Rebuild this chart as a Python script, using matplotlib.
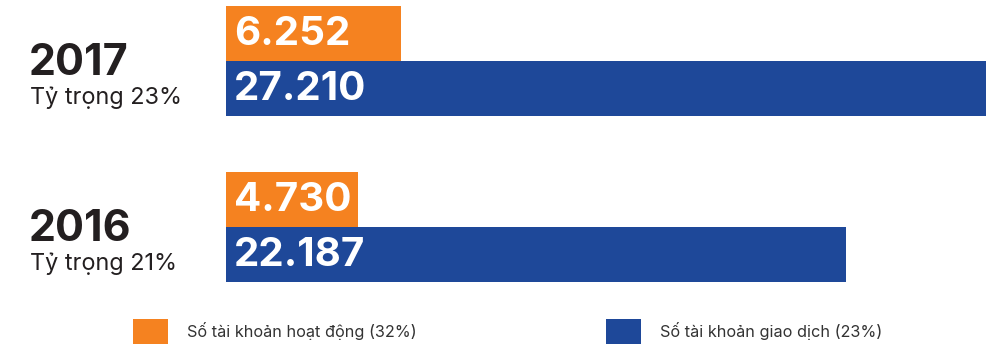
import matplotlib
matplotlib.use('Agg')
from matplotlib import pyplot as plt
from matplotlib.patches import Rectangle

# data
years = ['2017', '2016']
shares = ['Tỷ trọng 23%', 'Tỷ trọng 21%']
active = [6252, 4730]        # Số tài khoản hoạt động
trading = [27210, 22187]     # Số tài khoản giao dịch
active_lbl = ['6.252', '4.730']
trading_lbl = ['27.210', '22.187']
legend_lbl = ['Số tài khoản hoạt động (32%)', 'Số tài khoản giao dịch (23%)']

ORANGE = '#F58220'
BLUE = '#1E4899'
DARK = '#231F20'
W, H = 986, 344

plt.rcParams['font.family'] = ['Inter', 'DejaVu Sans']
fig = plt.figure(figsize=(W/100, H/100), dpi=100)

def fx(x):
    return x/W

def fy(y):
    return 1 - y/H

# axes spans the bar area (pixel coords 226..986 wide, 0..300 tall)
ax = fig.add_axes([fx(226), fy(300), fx(760), 300/H])
ax.set_xlim(0, max(trading))
ax.set_ylim(266.5, -33.5)
ax.axis('off')

bh = 55
gap = 166
for i in range(len(years)):
    y0 = i*gap
    ax.barh(y0, active[i], height=bh, color=ORANGE, linewidth=0)
    ax.barh(y0+bh, trading[i], height=bh, color=BLUE, linewidth=0)
    ax.annotate(active_lbl[i], xy=(0, y0), xytext=(8, -1), textcoords='offset pixels',
                color='white', fontsize=29, fontweight='bold', va='center', ha='left')
    ax.annotate(trading_lbl[i], xy=(0, y0+bh), xytext=(8, -1), textcoords='offset pixels',
                color='white', fontsize=29, fontweight='bold', va='center', ha='left')
    # year + share labels on the left
    fig.text(fx(29), fy(75 + i*gap), years[i], fontsize=31, fontweight='bold',
             color=DARK, va='baseline', ha='left')
    fig.text(fx(30), fy(104 + i*gap), shares[i], fontsize=16.9,
             color=DARK, va='baseline', ha='left')

# legend
for sx, tx, col, lbl in [(133, 187, ORANGE, legend_lbl[0]), (606, 660, BLUE, legend_lbl[1])]:
    fig.patches.append(Rectangle((fx(sx), 0), fx(35), 25/H, transform=fig.transFigure,
                                 color=col, linewidth=0))
    fig.text(fx(tx), fy(337), lbl, fontsize=11.7, color='#333333', va='baseline', ha='left')

plt.savefig('out.png', dpi=100)
